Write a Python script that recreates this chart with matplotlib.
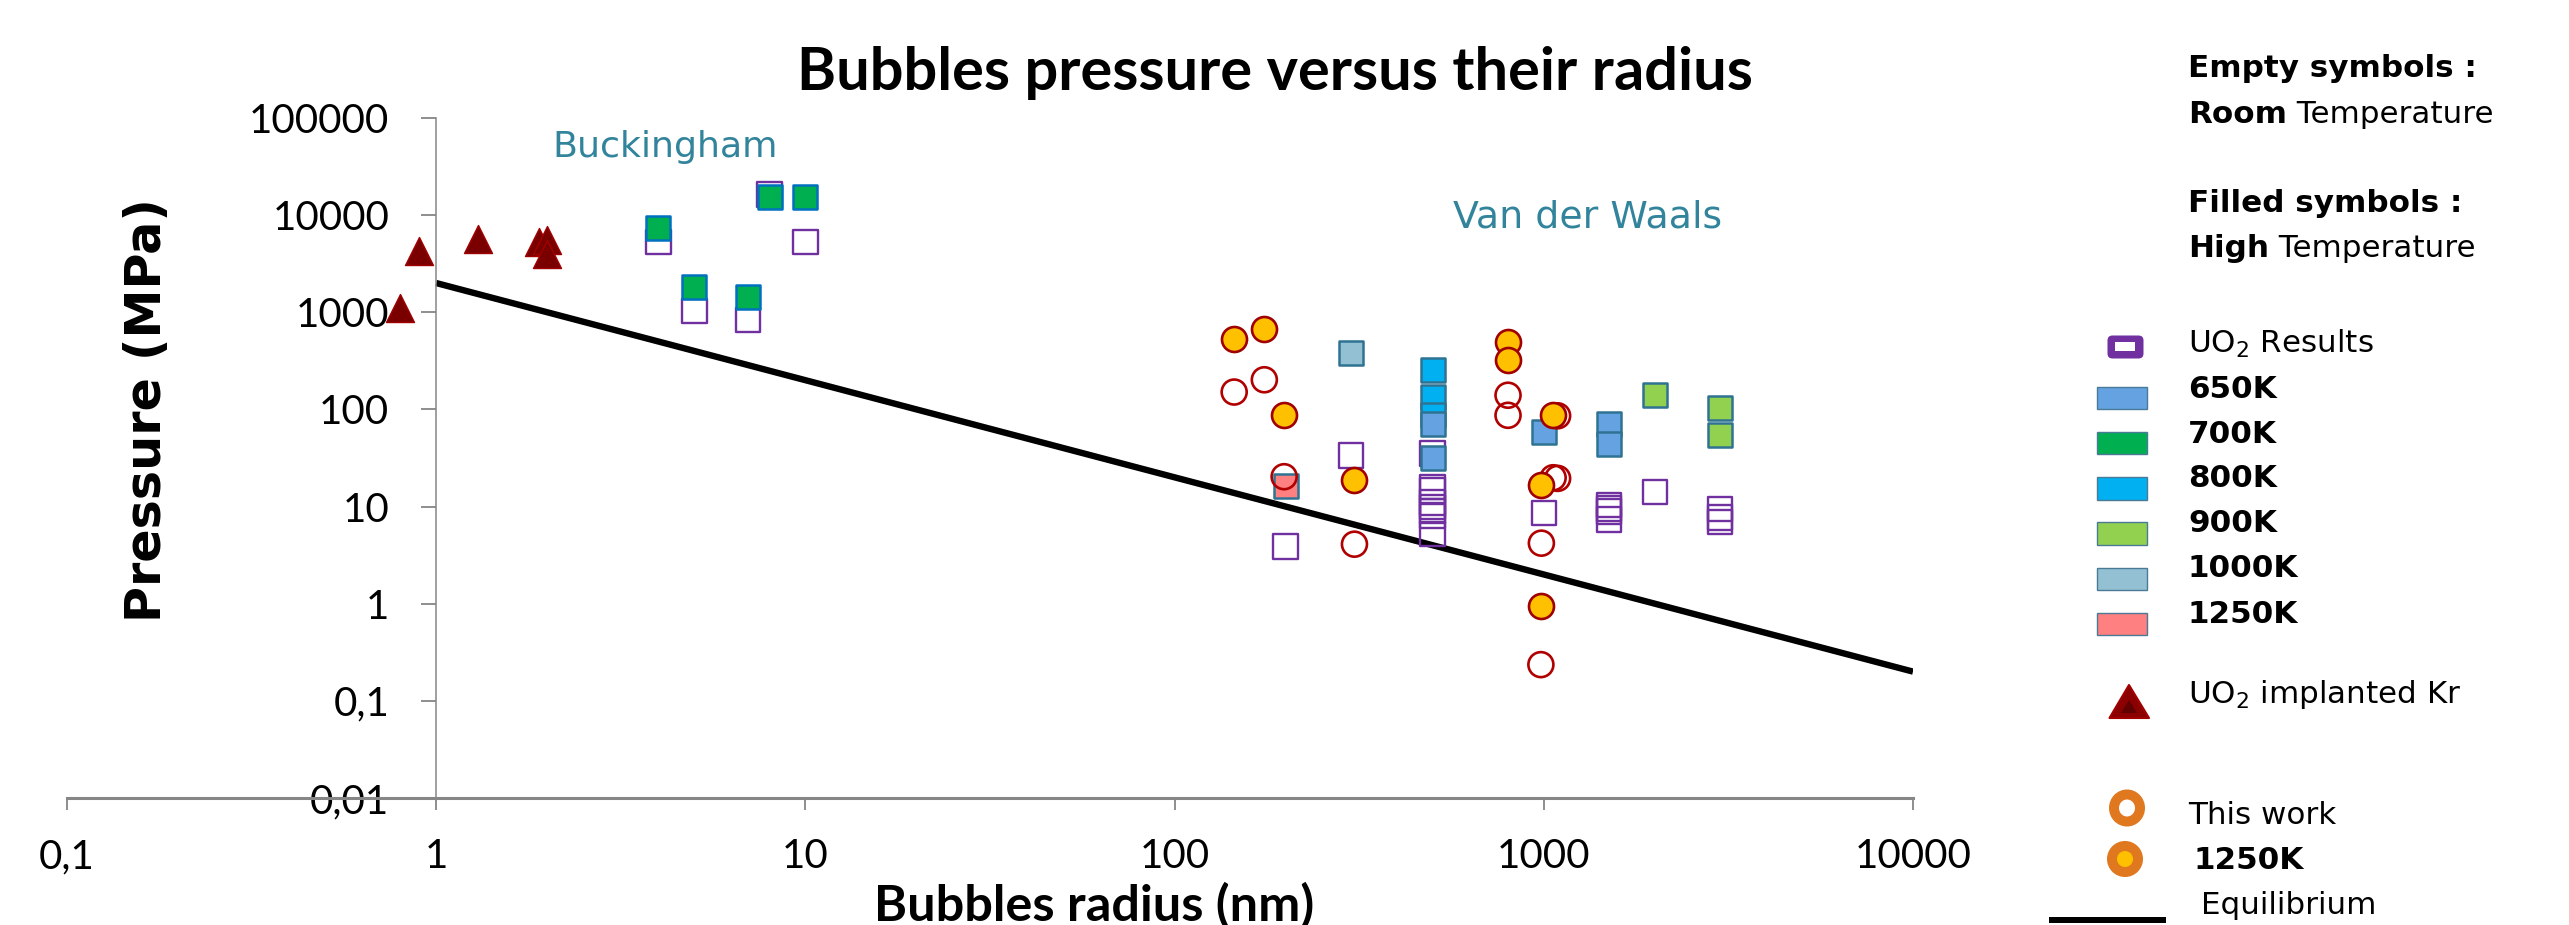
import matplotlib
matplotlib.use('Agg')
import matplotlib.pyplot as plt
from matplotlib.ticker import FixedLocator, NullLocator, FixedFormatter
from matplotlib.patches import FancyBboxPatch, Rectangle, Polygon, Ellipse
from matplotlib.lines import Line2D

# ---------------- data ----------------
x_ticks = [0.1, 1, 10, 100, 1000, 10000]
x_ticklabels = ['0,1', '1', '10', '100', '1000', '10000']
y_ticks = [0.01, 0.1, 1, 10, 100, 1000, 10000, 100000]
y_ticklabels = ['0,01', '0,1', '1', '10', '100', '1000', '10000', '100000']

# UO2 implanted Kr (triangles)
kr_x = [0.8, 0.9, 1.3, 1.9, 2.0, 2.0]
kr_y = [1100, 4300, 5700, 5300, 5600, 4000]

# UO2 results, room temperature (empty squares)
rt_x = [4, 5, 7, 8, 10, 200, 300,
        500, 500, 500, 500, 500, 500, 500, 500,
        1000, 1500, 1500, 1500, 1500, 2000, 3000, 3000, 3000]
rt_y = [5270, 1030, 828, 16400, 5310, 3.86, 33.7,
        35, 15.9, 14.7, 11, 9.9, 9.0, 8.0, 5.2,
        8.6, 10.4, 9.6, 8.9, 7.4, 14.1, 9.4, 7.7, 6.9]

# High temperature (filled squares)
k800_x = [500, 500, 500]
k800_y = [255, 133, 88]
k650_x = [500, 500, 1000, 1500, 1500]
k650_y = [70, 31.6, 58, 70.8, 44.2]
k700_x = [4, 5, 7, 8, 10]
k700_y = [7340, 1800, 1450, 15300, 15300]
k900_x = [2000, 3000, 3000]
k900_y = [142, 103, 54]
k1000_x = [300]
k1000_y = [377]
k1250_x = [200]
k1250_y = [16.3]

# This work
tw_rt_x = [145, 175, 198, 307, 800, 800, 1090, 1060, 1090, 985, 982]
tw_rt_y = [151, 202, 20.3, 4.1, 140, 87, 86, 19.8, 19.5, 4.2, 0.236]
tw_ht_x = [145, 175, 198, 307, 800, 800, 1060, 985, 982]
tw_ht_y = [528, 665, 87, 18.7, 492, 325, 87, 16.6, 0.94]

# Equilibrium
eq_x = [1, 10000]
eq_y = [2000, 0.2]

legend_temps = ['650K', '700K', '800K', '900K', '1000K', '1250K']
legend_colors = ['#64A2E2', '#00B050', '#00B0F0', '#92D050', '#93C0D2', '#FF8080']

# ---------------- figure ----------------
W, H, DPI = 2569, 925, 100
fig = plt.figure(figsize=(W / DPI, H / DPI), dpi=DPI)
fig.patch.set_facecolor('white')

def px_to_pt(p):
    return p * 72.0 / DPI

L, R, T, B = 67, 1913, 118, 798
ax = fig.add_axes([L / W, 1 - B / H, (R - L) / W, (B - T) / H])
ax.set_xscale('log')
ax.set_yscale('log')
ax.set_xlim(0.1, 10000)
ax.set_ylim(0.01, 100000)
ax.patch.set_alpha(0)

grey = '#868686'
for s in ['top', 'right']:
    ax.spines[s].set_visible(False)
ax.spines['left'].set_position(('data', 1))
ax.spines['left'].set_color(grey)
ax.spines['left'].set_linewidth(1.1)
ax.spines['bottom'].set_color(grey)
ax.spines['bottom'].set_linewidth(2.2)

ax.xaxis.set_major_locator(FixedLocator(x_ticks))
ax.xaxis.set_major_formatter(FixedFormatter(x_ticklabels))
ax.xaxis.set_minor_locator(NullLocator())
ax.yaxis.set_major_locator(FixedLocator(y_ticks))
ax.yaxis.set_major_formatter(FixedFormatter(y_ticklabels))
ax.yaxis.set_minor_locator(NullLocator())

ax.tick_params(axis='x', direction='out', length=px_to_pt(12), width=1.3,
               color=grey, pad=px_to_pt(28), labelsize=29)
ax.tick_params(axis='y', direction='out', length=px_to_pt(15), width=1.3,
               color=grey, pad=px_to_pt(32), labelsize=29)
for lab in ax.get_xticklabels() + ax.get_yticklabels():
    lab.set_fontfamily('Lato')

# equilibrium line
ax.plot(eq_x, eq_y, color='black', lw=4.6, zorder=1.5, solid_capstyle='butt')

sq_s = px_to_pt(24.5) ** 2
edge_teal = '#2F7393'
ax.scatter(rt_x, rt_y, marker='s', s=sq_s, facecolors='none',
           edgecolors='#7030A0', linewidths=1.7, zorder=2)
ax.scatter(k800_x, k800_y, marker='s', s=sq_s, facecolors='#00B0F0',
           edgecolors=edge_teal, linewidths=1.8, zorder=2.1)
ax.scatter(k650_x, k650_y, marker='s', s=sq_s, facecolors='#64A2E2',
           edgecolors=edge_teal, linewidths=1.8, zorder=2.2)
ax.scatter(k700_x, k700_y, marker='s', s=sq_s, facecolors='#00B050',
           edgecolors='#0070C0', linewidths=1.8, zorder=2.3)
ax.scatter(k900_x, k900_y, marker='s', s=sq_s, facecolors='#92D050',
           edgecolors=edge_teal, linewidths=1.8, zorder=2.3)
ax.scatter(k1000_x, k1000_y, marker='s', s=sq_s, facecolors='#93C0D2',
           edgecolors=edge_teal, linewidths=1.8, zorder=2.3)
ax.scatter(k1250_x, k1250_y, marker='s', s=sq_s, facecolors='#FF8080',
           edgecolors=edge_teal, linewidths=1.8, zorder=2.3)

ax.scatter(kr_x, kr_y, marker='^', s=px_to_pt(28) ** 2, facecolors='#7A0000',
           edgecolors='#A00000', linewidths=1.0, zorder=2.5, clip_on=False)

c_s = px_to_pt(25) ** 2
ax.scatter(tw_rt_x, tw_rt_y, marker='o', s=c_s, facecolors='none',
           edgecolors='#B00000', linewidths=1.9, zorder=3)
ax.scatter(tw_ht_x, tw_ht_y, marker='o', s=c_s, facecolors='#FFC000',
           edgecolors='#A00000', linewidths=1.9, zorder=3.1)

# ---------------- overlay in pixel coordinates ----------------
ov = fig.add_axes([0, 0, 1, 1], zorder=5)
ov.set_xlim(0, W)
ov.set_ylim(H, 0)
ov.axis('off')
ov.patch.set_alpha(0)

fig.canvas.draw()
rend = fig.canvas.get_renderer()

def fit_w(t, target):
    bb = t.get_window_extent(rend)
    t.set_fontsize(t.get_fontsize() * target / bb.width)

def fit_h(t, target):
    bb = t.get_window_extent(rend)
    t.set_fontsize(t.get_fontsize() * target / bb.height)

title = ov.text(1275, 90, 'Bubbles pressure versus their radius', family='Lato',
                weight='bold', size=36, ha='center', va='baseline')
fit_w(title, 954)

xl = ov.text(1094, 921, 'Bubbles radius (nm)', family='Lato', weight='bold',
             size=34, ha='center', va='baseline')
fit_w(xl, 440)

yl = ov.text(147, 410, 'Pressure (MPa)', family='DejaVu Sans', weight='bold',
             size=34, ha='center', va='center', rotation=90)
fit_h(yl, 425)

teal = '#31849B'
bk = ov.text(552, 157, 'Buckingham', family='DejaVu Sans', size=26,
             color=teal, ha='left', va='baseline')
fit_w(bk, 226)
vdw = ov.text(1453, 228, 'Van der Waals', family='DejaVu Sans', size=26,
              color=teal, ha='left', va='baseline')
fit_w(vdw, 269)

# legend texts
LX = 2188
lf = 'DejaVu Sans'
t0 = ov.text(LX, 77, 'Empty symbols :', family=lf, weight='bold', size=22,
             ha='left', va='baseline')
fit_w(t0, 288)
fs = t0.get_fontsize()
desc = fs * DPI / 72.0 * 0.236

def two_part(yb, bold, rest):
    a = ov.text(LX, yb + desc, bold, family=lf, weight='bold', size=fs,
                ha='left', va='bottom')
    ov.annotate(rest, xy=(1, 0), xycoords=a, family=lf, size=fs,
                ha='left', va='bottom')

two_part(121.5, 'Room', ' Temperature')
ov.text(LX, 211.7, 'Filled symbols :', family=lf, weight='bold', size=fs,
        ha='left', va='baseline')
two_part(256, 'High', ' Temperature')

ov.text(LX, 353, 'UO$_2$ Results', family=lf, size=fs, ha='left', va='baseline')
base_y = [398, 442.7, 486.7, 531.7, 576.7, 622.7]
for lab, yb in zip(legend_temps, base_y):
    ov.text(LX, yb, lab, family=lf, weight='bold', size=fs, ha='left', va='baseline')
ov.text(LX, 703, 'UO$_2$ implanted Kr', family=lf, size=fs, ha='left', va='baseline')
ov.text(LX, 824, 'This work', family=lf, size=fs, ha='left', va='baseline')
ov.text(2194, 869, '1250K', family=lf, weight='bold', size=fs, ha='left', va='baseline')
ov.text(2201, 914, 'Equilibrium', family=lf, size=fs, ha='left', va='baseline')

# legend markers
ov.add_patch(FancyBboxPatch((2109, 337), 33, 20, boxstyle='round,pad=1.5,rounding_size=5',
                            facecolor='#7030A0', edgecolor='#7030A0', lw=0))
ov.add_patch(Rectangle((2115.5, 341.5), 19.5, 9.5, facecolor='white', edgecolor='none'))
for i, c in enumerate(legend_colors):
    top = 386.7 + 45.2 * i
    ov.add_patch(Rectangle((2097, top), 50, 22.5, facecolor=c,
                           edgecolor='#4A7A96', lw=1.0))
ov.add_patch(Polygon([(2109.5, 718), (2129, 685), (2149, 718)], closed=True,
                     facecolor='#8B0000', edgecolor='#A00000', lw=1.5, joinstyle='round'))
ov.add_patch(Polygon([(2121, 713), (2129, 700), (2137, 713)], closed=True,
                     facecolor='#600000', edgecolor='none'))
ring_lw = px_to_pt(10)
ov.add_patch(Ellipse((2127, 808), 26, 27, facecolor='white', edgecolor='#E07820', lw=ring_lw))
ov.add_patch(Ellipse((2125, 859), 26, 26, facecolor='#FFC000', edgecolor='#E07820', lw=ring_lw))
ov.add_line(Line2D([2052, 2163], [920, 920], color='black', lw=px_to_pt(6)))

fig.savefig('out.png', dpi=DPI)
